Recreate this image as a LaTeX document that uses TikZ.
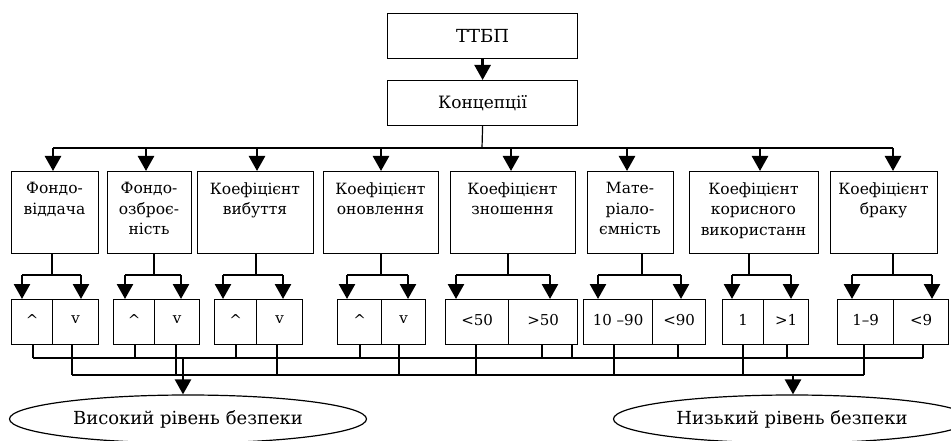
\documentclass[tikz,border=0pt]{standalone}
\usepackage{fontspec}
\setmainfont{DejaVu Serif}
\usetikzlibrary{arrows.meta,shapes.geometric}
\begin{document}
\begin{tikzpicture}[x=1pt,y=-1pt,line width=1.2pt,
  frame/.style={draw,line width=1.2pt,inner sep=0pt,anchor=north west},
  lbl/.style={inner sep=0pt,align=center,anchor=north,font=\fontsize{15.5}{20.5}\selectfont},
  sml/.style={inner sep=0pt,font=\fontsize{15}{16}\selectfont},
  arr/.style={-{Triangle[width=16pt,length=15pt]},line width=2.6pt},
  bus/.style={line width=1.2pt},
  oval/.style={draw,ellipse,line width=1.2pt,inner sep=0pt,minimum width=357pt,minimum height=48pt,font=\fontsize{18}{20}\selectfont}]
\useasboundingbox (0,0) rectangle (951,441);
% top boxes
\node[frame,minimum width=190pt,minimum height=45pt,font=\fontsize{18}{20}\selectfont] (T) at (387,13) {ТТБП};
\node[frame,minimum width=190pt,minimum height=45pt,font=\fontsize{17}{20}\selectfont] (K) at (387,80) {Концепції};
\draw[arr] (T.south) -- (K.north);
\coordinate (top) at (482,148);
\draw[bus] (K.south) -- (top);
\coordinate (busL) at (53,148);
\coordinate (busR) at (893,148);
\draw[bus] (busL) -- (busR);
% big boxes: name / x1 / x2 / arrow x / split x / text
\foreach \n/\xa/\xb/\ax/\sx/\t in {
  B1/11/98/53/52/{Фондо-\\віддача},
  B2/107/191/146/154/{Фондо-\\озброє-\\ність},
  B3/197/313/257/256/{Коефіцієнт\\вибуття},
  B4/323/438/381/381/{Коефіцієнт\\оновлення},
  B5/450/575/511/508/{Коефіцієнт\\зношення},
  B6/587/673/627/642/{Мате-\\ріало-\\ємність},
  B7/689/818/760/749/{Коефіцієнт\\корисного\\використанн},
  B8/830/937/893/893/{Коефіцієнт\\браку}}{
  \node[frame,minimum width={(\xb-\xa)*1pt},minimum height=82pt] (\n) at (\xa,171) {};
  \node[lbl] (\n t) at ({(\xa+\xb)/2},182) {\t};
  \coordinate (\n a) at (\ax,148);
  \draw[arr] (\n a) -- (\n a |- \n.north);
  \coordinate (\n s) at (\sx,275);
  \draw[bus] (\n s |- \n.south) -- (\n s);
}
% small box pairs: name / xl / xm / xr / left arrow / right arrow / left text / right text
\foreach \n/\xl/\xm/\xr/\la/\ra/\tl/\tr in {
  P1/11/52/98/22/81/\textasciicircum/v,
  P2/113/154/199/125/181/\textasciicircum/v,
  P3/214/256/302/223/283/\textasciicircum/v,
  P4/337/381/425/347/408/\textasciicircum/v,
  P5/445/508/577/456/550/{<50}/{>50},
  P6/583/652/705/598/681/{10 –90}/{<90},
  P7/722/763/808/732/791/1/{>1},
  P8/837/893/948/852/932/{1–9}/{<9}}{
  \node[frame,minimum width={(\xm-\xl)*1pt},minimum height=45pt] (\n L) at (\xl,299) {};
  \node[frame,minimum width={(\xr-\xm)*1pt},minimum height=45pt] (\n R) at (\xm,299) {};
  \node[sml] (\n Lt) at ([yshift=2pt]\n L.center) {\tl};
  \node[sml] (\n Rt) at ([yshift=2pt]\n R.center) {\tr};
  \coordinate (\n a) at (\la,275);
  \coordinate (\n b) at (\ra,275);
  \draw[bus] (\n a) -- (\n b);
  \draw[arr] (\n a) -- (\n a |- \n L.north);
  \draw[arr] (\n b) -- (\n b |- \n R.north);
}
% collecting buses
\coordinate (upL) at (33,358);
\coordinate (upR) at (923,358);
\coordinate (loL) at (72,375);
\coordinate (loR) at (864,375);
\draw[bus] (upL) -- (upR);
\draw[bus] (loL) -- (loR);
\foreach \x/\s in {33/P1L,135/P2L,236/P3L,360/P4L,542/P5R,572/P5R,678/P6R,787/P7R,923/P8R}{
  \coordinate (u\x) at (\x,358);
  \draw[bus] (u\x |- \s.south) -- (u\x);
}
\foreach \x/\s in {72/P1R,176/P2R,277/P3R,399/P4R,476/P5L,614/P6L,743/P7L,864/P8L}{
  \coordinate (l\x) at (\x,375);
  \draw[bus] (l\x |- \s.south) -- (l\x);
}
% outcomes
\node[oval] (V) at (188,419) {Високий рівень безпеки};
\node[oval] (N) at (792,419) {Низький рівень безпеки};
\coordinate (hv) at (183,358);
\coordinate (hn) at (793,375);
\draw[arr] (hv) -- (hv |- V.north);
\draw[arr] (hn) -- (hn |- N.north);
\end{tikzpicture}
\end{document}
